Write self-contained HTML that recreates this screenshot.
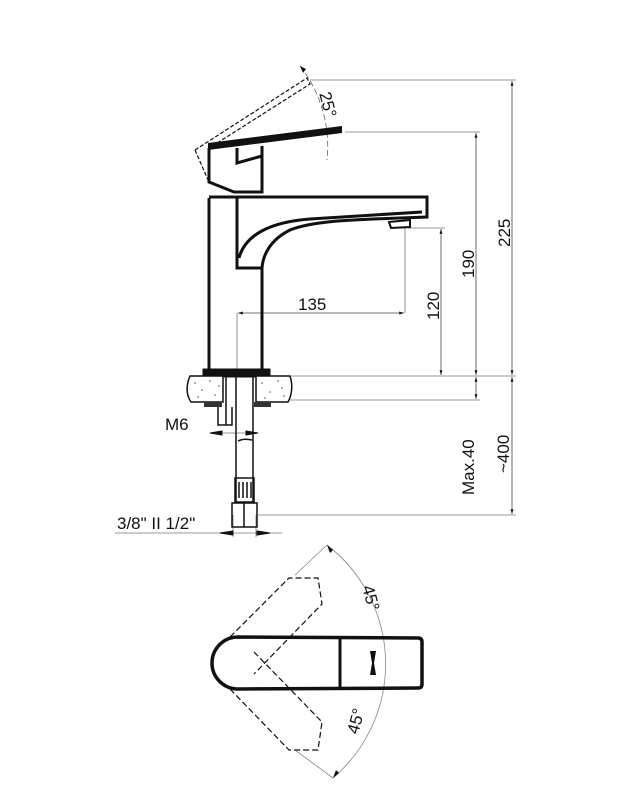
<!DOCTYPE html>
<html><head><style>body{margin:0;background:#fff}svg{display:block}text{font-family:"Liberation Sans",sans-serif;fill:#111}</style></head>
<body>
<svg width="644" height="800" viewBox="0 0 644 800" xmlns="http://www.w3.org/2000/svg">
<defs><marker id="a" viewBox="0 0 10 10" refX="10" refY="5" markerWidth="8" markerHeight="6" orient="auto-start-reverse"><path d="M0,2 L10,5 L0,8z" fill="#111"/></marker></defs>
<g stroke="#777" stroke-width="0.8" fill="none">
<line x1="310" y1="80" x2="516" y2="80"/>
<line x1="345" y1="132" x2="480" y2="132"/>
<line x1="408" y1="228" x2="445" y2="228"/>
<line x1="290" y1="376" x2="516" y2="376"/>
<line x1="290" y1="400" x2="480" y2="400"/>
<line x1="258" y1="515" x2="516" y2="515"/>
<line x1="405" y1="228" x2="405" y2="313"/>
<line x1="237" y1="313" x2="237" y2="372"/>
<line x1="212" y1="433" x2="258" y2="433"/>
<line x1="233" y1="515" x2="233" y2="537"/>
<line x1="256" y1="515" x2="256" y2="537"/>
<line x1="115" y1="533" x2="282" y2="533"/>
</g>
<g stroke="#444" stroke-width="0.8" fill="none" marker-start="url(#a)" marker-end="url(#a)">
<line x1="441" y1="229" x2="441" y2="375"/>
<line x1="476" y1="133" x2="476" y2="375"/>
<line x1="512" y1="81" x2="512" y2="375"/>
<line x1="512" y1="377" x2="512" y2="514"/>
<line x1="476" y1="377" x2="476" y2="399"/>
<line x1="238" y1="313" x2="404" y2="313"/>
</g>
<g stroke="#111" stroke-width="1" fill="#111">
<path d="M210,433 l12,-2 v4z"/><path d="M258,433 l-12,-2 v4z"/>
<path d="M220,533 l13,-2 v4z"/><path d="M270,533 l-13,-2 v4z"/>
</g>
<path d="M300,66 A130,130 0 0 1 327,160" stroke="#666" stroke-width="0.8" stroke-dasharray="6,3" fill="none"/>
<path d="M300,66 l6,3 l-3,4z" fill="#111"/>
<g stroke="#111" stroke-width="1.2" fill="none" stroke-dasharray="4,2">
<path d="M195,150 L307,78 L310,84 L214,145"/>
<path d="M195,150 L208,180"/>
</g>
<g stroke="#111" stroke-width="3" fill="none" stroke-linejoin="miter">
<path d="M209,148 L209,182 L234,192 L262,192 L262,146"/>
<path d="M237,148 L237,163 L262,156"/>
<path d="M209,198 L209,370 M262,268 L262,370"/>
<path d="M209,197 L427,197 L427,217 L400,218 C340,220 310,222 290,230 C270,240 263,255 262,268"/>
<path d="M237,197 L237,268 L262,268"/>
<path d="M239,258 C245,235 270,222 310,219 L422,212"/>
<path d="M389,222 L410,220 L410,227 L391,228z" stroke-width="2"/>
<rect x="204" y="370" width="65" height="6" fill="#111"/>
</g>
<path d="M208,150 L342,133 L342,126 L208,143z" fill="#111"/>
<g stroke="#111" stroke-width="1.5" fill="#fff">
<path d="M190,376 L223,376 L223,402 L191,402 C186,395 186,385 190,376z"/>
<path d="M256,376 L290,376 C293,385 292,395 288,402 L256,402z"/>
</g>
<g fill="#555">
<circle cx="195" cy="383" r="0.8"/><circle cx="202" cy="390" r="0.8"/><circle cx="210" cy="381" r="0.8"/><circle cx="215" cy="395" r="0.8"/><circle cx="198" cy="397" r="0.8"/><circle cx="219" cy="386" r="0.8"/>
<circle cx="262" cy="383" r="0.8"/><circle cx="270" cy="392" r="0.8"/><circle cx="278" cy="381" r="0.8"/><circle cx="284" cy="396" r="0.8"/><circle cx="265" cy="398" r="0.8"/><circle cx="282" cy="388" r="0.8"/>
</g>
<rect x="204" y="402" width="18" height="5" fill="#333"/>
<rect x="254" y="402" width="17" height="5" fill="#333"/>
<g stroke="#111" stroke-width="1.5" fill="none">
<line x1="236" y1="376" x2="236" y2="503"/><line x1="253" y1="376" x2="253" y2="503"/>
<path d="M218,407 L218,425 L232,425 L232,407"/>
<line x1="226" y1="376" x2="226" y2="425"/>
<rect x="235" y="478" width="19" height="24"/>
<line x1="239" y1="482" x2="239" y2="498"/><line x1="243" y1="482" x2="243" y2="498"/><line x1="247" y1="482" x2="247" y2="498"/><line x1="251" y1="482" x2="251" y2="498"/>
<rect x="232" y="503" width="25" height="24"/>
<line x1="244" y1="503" x2="244" y2="527"/>
<path d="M238,441 q6,-3 14,-1"/>
</g>
<text x="298" y="310" font-size="17">135</text>
<text x="318" y="105" font-size="17" transform="rotate(75 326 100)">25°</text>
<text transform="translate(510,247) rotate(-90)" font-size="17">225</text>
<text transform="translate(474,278) rotate(-90)" font-size="17">190</text>
<text transform="translate(439,320) rotate(-90)" font-size="17">120</text>
<text transform="translate(474,495) rotate(-90)" font-size="17">Max.40</text>
<text transform="translate(509,473) rotate(-90)" font-size="17">~400</text>
<text x="165" y="430" font-size="17">M6</text>
<text x="117" y="529" font-size="17">3/8" II 1/2"</text>
<path d="M327,545 A150,150 0 0 1 333,778" stroke="#888" stroke-width="0.8" fill="none"/>
<line x1="327" y1="545" x2="295" y2="575" stroke="#888" stroke-width="0.8"/>
<line x1="333" y1="778" x2="295" y2="750" stroke="#888" stroke-width="0.8"/>
<path d="M327,545 l6,5 l-3,3z M333,778 l6,-5 l-3,-3z" fill="#111"/>
<g stroke="#111" stroke-width="1.2" fill="none" stroke-dasharray="6,3">
<path d="M230,637 L289,578 L318,578 L322,604 L254,674"/>
<path d="M230,689 L289,750 L318,750 L322,722 L254,652"/>
</g>
<path d="M238,637 L418,638 Q422,638 422,642 L422,684 Q422,688 418,688 L238,689 A26,26 0 0 1 238,637z" stroke="#111" stroke-width="3.5" fill="none"/>
<line x1="340" y1="638" x2="340" y2="688" stroke="#111" stroke-width="3"/>
<path d="M370,651 h6 l-2,12 l2,12 h-6 l2,-12z" fill="#111"/>
<text transform="translate(362,587) rotate(75)" font-size="17">45°</text>
<text transform="translate(358,735) rotate(-75)" font-size="17">45°</text>
</svg>
</body></html>
